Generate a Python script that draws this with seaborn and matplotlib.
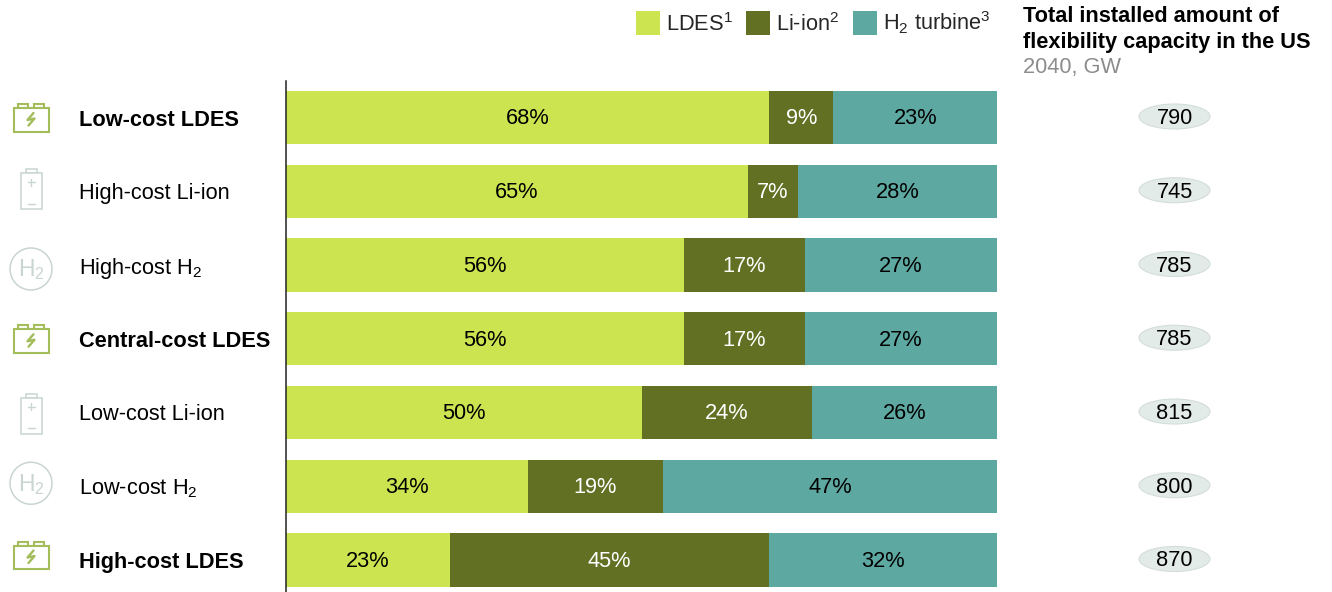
import numpy as np
import pandas as pd
import seaborn as sns
import matplotlib
matplotlib.use("Agg")
import matplotlib.pyplot as plt
from matplotlib.patches import Rectangle, Ellipse, Circle, Patch

scenarios = ["Low-cost LDES", "High-cost Li-ion", "High-cost H$_2$", "Central-cost LDES",
             "Low-cost Li-ion", "Low-cost H$_2$", "High-cost LDES"]
icons = ["ldes", "liion", "h2", "ldes", "liion", "h2", "ldes"]
ldes = [68, 65, 56, 56, 50, 34, 23]
liion = [9, 7, 17, 17, 24, 19, 45]
h2 = [23, 28, 27, 27, 26, 47, 32]
totals = [790, 745, 785, 785, 815, 800, 870]
legend_labels = ["LDES$^1$", "Li-ion$^2$", "H$_2$ turbine$^3$"]

GREEN = "#cde451"
OLIVE = "#627024"
TEAL = "#5ea8a2"
ICON_GREEN = "#a3bd5a"
ICON_GREY = "#c9d5d1"

sns.set_theme(style="white")
plt.rcParams["font.family"] = ["Liberation Sans", "DejaVu Sans"]
plt.rcParams["mathtext.fontset"] = "custom"
plt.rcParams["mathtext.rm"] = "Liberation Sans"
plt.rcParams["mathtext.default"] = "rm"

W, H = 1332, 592
FS = 15.7
fig = plt.figure(figsize=(W / 100, H / 100), dpi=100)
fig.patch.set_facecolor("white")

# main bars, same layout as the source picture
ax = fig.add_axes([286 / W, 0, 711 / W, (592 - 81) / H])
df = pd.DataFrame({"scenario": scenarios, "ldes": ldes, "liion": liion, "h2": h2})
df["c1"] = df["ldes"]
df["c2"] = df["ldes"] + df["liion"]
df["c3"] = df["c2"] + df["h2"]

# stacked look: longest bar first, shorter ones on top
for col, colour in [("c3", TEAL), ("c2", OLIVE), ("c1", GREEN)]:
    sns.barplot(data=df, x=col, y="scenario", color=colour, width=0.72,
                saturation=1, linewidth=0, ax=ax)

ax.set_xlim(0, 100)
ax.set_ylim((592 - 117.5) / 73.75, (81 - 117.5) / 73.75)
ax.set_xlabel("")
ax.set_ylabel("")
ax.set_xticks([])
sns.despine(ax=ax, top=True, right=True, bottom=True)
ax.spines["left"].set_color("#222222")
ax.spines["left"].set_linewidth(1.1)
ax.tick_params(axis="y", length=0, pad=(286 - 79) * 0.72, labelsize=FS, colors="black")
for lab, name in zip(ax.get_yticklabels(), scenarios):
    lab.set_ha("left")
    lab.set_va("center_baseline")
    if "LDES" in name:
        lab.set_fontweight("bold")

for i in range(len(scenarios)):
    yy = i + 0.02
    ax.text(ldes[i] / 2, yy, f"{ldes[i]}%", ha="center", va="center", fontsize=FS, color="black")
    ax.text(ldes[i] + liion[i] / 2, yy, f"{liion[i]}%", ha="center", va="center", fontsize=FS, color="white")
    ax.text(ldes[i] + liion[i] + h2[i] / 2, yy, f"{h2[i]}%", ha="center", va="center", fontsize=FS, color="black")

# overlay in pixels for icons, pills and the header
ov = fig.add_axes([0, 0, 1, 1], facecolor="none")
ov.set_xlim(0, W)
ov.set_ylim(H, 0)
ov.axis("off")


def draw_ldes(cy):
    lw = 1.5
    for x0 in (17.7, 34.2):
        ov.add_patch(Rectangle((x0, cy - 13.5), 9.8, 4, fc="none", ec=ICON_GREEN, lw=lw))
    ov.add_patch(Rectangle((13.5, cy - 9.5), 35, 23.5, fc="white", ec=ICON_GREEN, lw=lw))
    ov.plot([33.5, 27.5, 34.5, 28.5], [cy - 4.5, cy + 2.5, cy + 1, cy + 8], color=ICON_GREEN, lw=1.7)


def draw_liion(cy):
    ov.add_patch(Rectangle((25.5, cy - 22), 11, 4, fc="none", ec=ICON_GREY, lw=1.1))
    ov.add_patch(Rectangle((20.5, cy - 18), 21.5, 36, fc="white", ec=ICON_GREY, lw=1.1))
    ov.plot([27.5, 34.5], [cy - 9, cy - 9], color=ICON_GREY, lw=1)
    ov.plot([31, 31], [cy - 12.5, cy - 5.5], color=ICON_GREY, lw=1)
    ov.plot([27.5, 34.5], [cy + 12.5, cy + 12.5], color=ICON_GREY, lw=1)


def draw_h2(cy):
    ov.add_patch(Circle((31, cy + 2), 21, fc="white", ec=ICON_GREY, lw=1.1))
    ov.text(31, cy + 3, "H$_2$", ha="center", va="center", fontsize=16.5, color=ICON_GREY)


draw_icon = {"ldes": draw_ldes, "liion": draw_liion, "h2": draw_h2}
# the icons do not sit at the same height in every row
icon_shift = [0, 0, 2, 0, 3, -5, -5]
for i, kind in enumerate(icons):
    cy = 117.5 + 73.75 * i
    draw_icon[kind](cy + icon_shift[i])
    ov.add_patch(Ellipse((1174.5, cy - 1), 71, 25, fc="#e3ebe8", ec="#d3ddd9", lw=0.8))
    ov.text(1174.5, cy + 1, str(totals[i]), ha="center", va="center", fontsize=FS, color="black")

ov.text(1023, 16.5, "Total installed amount of", fontsize=FS, fontweight="bold", va="center", color="black")
ov.text(1023, 42.5, "flexibility capacity in the US", fontsize=FS, fontweight="bold", va="center", color="black")
ov.text(1023, 68, "2040, GW", fontsize=FS, va="center", color="#8c8c8c")

handles = [Patch(fc=c, ec="none") for c in (GREEN, OLIVE, TEAL)]
fig.legend(handles, legend_labels, ncol=3, frameon=False, fontsize=FS,
           loc="center left", bbox_to_anchor=(636 / W, 1 - 23 / H), borderaxespad=0, borderpad=0,
           handlelength=1.1, handleheight=1.32, handletextpad=0.28, columnspacing=0.62)

fig.savefig("out.png", dpi=100)
